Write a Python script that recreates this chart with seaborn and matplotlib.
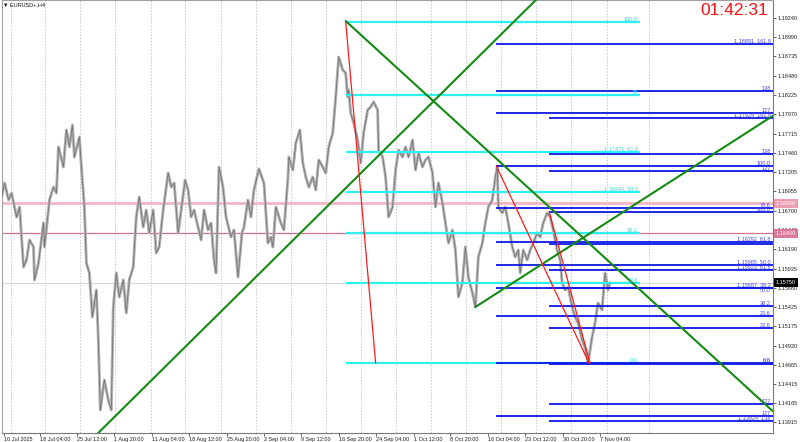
import matplotlib
matplotlib.use("Agg")
import matplotlib.pyplot as plt
import matplotlib.transforms as mtransforms
import seaborn as sns

# ---- price path (bar index, price) ----
BAR_X = [0, 3, 7, 10, 15, 18, 22, 25, 28, 32, 33, 37, 42, 43, 48, 52, 55, 57, 62, 65,
         68, 71, 73, 78, 80, 83, 85, 88, 91, 95, 97, 99, 103, 107, 110, 112, 115, 118, 122, 125,
         128, 132, 135, 138, 142, 145, 148, 152, 155, 158, 162, 167, 170, 173, 177, 180, 184, 187, 190, 193,
         197, 200, 203, 207, 210, 213, 215, 218, 222, 225, 230, 233, 237, 241, 243, 247, 250, 253, 258, 263,
         267, 270, 272, 275, 280, 283, 287, 288, 292, 295, 299, 302, 305, 308, 312, 315, 318, 322, 325, 328,
         332, 335, 338, 342, 345, 347, 348, 350, 353, 357, 360, 363, 367, 370, 373, 377, 378, 382, 385, 388,
         392, 395, 398, 402, 405, 408, 412, 415, 418, 422, 425, 428, 432, 435, 438, 442, 445, 448, 452, 455,
         458, 462, 465, 468, 472, 475, 478, 482, 485, 488, 492, 495, 497, 498, 502, 505, 508, 512, 515, 518,
         520, 523, 527, 530, 533, 537, 540, 543, 547, 550, 553, 557, 560, 562, 565, 568, 572, 575, 578, 582,
         585, 588, 592, 595, 598, 602, 605, 608, 610]
CLOSE = [1.16881, 1.17065, 1.16841, 1.16933, 1.16617, 1.16749, 1.15958, 1.16050, 1.16314, 1.16222,
         1.15787, 1.16011, 1.16538, 1.16222, 1.16841, 1.17012, 1.16933, 1.17540, 1.17276, 1.17764,
         1.17540, 1.17830, 1.17408, 1.17671, 1.17276, 1.16749, 1.16011, 1.15879, 1.15299, 1.15655,
         1.14996, 1.14073, 1.14469, 1.14205, 1.14073, 1.15431, 1.15879, 1.15563, 1.15787, 1.15352,
         1.15787, 1.15958, 1.16617, 1.16881, 1.16485, 1.16709, 1.16406, 1.16709, 1.16143, 1.16222,
         1.16709, 1.17197, 1.17012, 1.17065, 1.16406, 1.16709, 1.17105, 1.16973, 1.16617, 1.16709,
         1.16485, 1.16314, 1.16709, 1.16446, 1.16538, 1.16050, 1.15879, 1.17276, 1.17012, 1.16617,
         1.16353, 1.16446, 1.15826, 1.16406, 1.16485, 1.16841, 1.16617, 1.16973, 1.17250, 1.17065,
         1.16274, 1.16353, 1.16222, 1.16749, 1.16538, 1.16446, 1.17105, 1.17408, 1.17236, 1.17592,
         1.17764, 1.17329, 1.17144, 1.17012, 1.17144, 1.16973, 1.17368, 1.17276, 1.17197, 1.17540,
         1.17724, 1.18199, 1.18726, 1.18554, 1.18515, 1.18199, 1.18291, 1.17988, 1.17856, 1.17632,
         1.17329, 1.17724, 1.18027, 1.18067, 1.18133, 1.18027, 1.17500, 1.17408, 1.17144, 1.16617,
         1.16749, 1.17236, 1.17500, 1.17408, 1.17540, 1.17408, 1.17632, 1.17236, 1.17461, 1.17276,
         1.17368, 1.17408, 1.17197, 1.16749, 1.17065, 1.16802, 1.16538, 1.16274, 1.16446, 1.16182,
         1.15563, 1.15747, 1.16222, 1.15826, 1.15615, 1.15431, 1.16090, 1.16274, 1.16538, 1.16749,
         1.16841, 1.17144, 1.17276, 1.16749, 1.16670, 1.16749, 1.16538, 1.16222, 1.16090, 1.16182,
         1.15879, 1.16182, 1.16050, 1.16182, 1.16274, 1.16406, 1.16353, 1.16538, 1.16670, 1.16617,
         1.16446, 1.16182, 1.16050, 1.15747, 1.15655, 1.15694, 1.15431, 1.15299, 1.15220, 1.14996,
         1.14890, 1.14690, 1.15035, 1.15220, 1.15483, 1.15391, 1.15879, 1.15655, 1.15750]

# ---- axes ----
Y_TICKS = [1.19240, 1.18990, 1.18735, 1.18480, 1.18225, 1.17970, 1.17715, 1.17460, 1.17205,
           1.16955, 1.16700, 1.16445, 1.16190, 1.15935, 1.15680, 1.15425, 1.15175, 1.14920,
           1.14665, 1.14415, 1.14165, 1.13915]
DATE_LABELS = ["10 Jul 2025", "18 Jul 04:00", "25 Jul 12:00", "1 Aug 20:00", "11 Aug 04:00",
               "18 Aug 12:00", "25 Aug 20:00", "2 Sep 04:00", "9 Sep 12:00", "16 Sep 20:00",
               "24 Sep 04:00", "1 Oct 12:00", "8 Oct 20:00", "16 Oct 04:00", "23 Oct 12:00",
               "30 Oct 20:00", "7 Nov 04:00"]
DATE_POS = [2, 39, 76, 113, 151, 188, 226, 263, 300, 338, 375, 413, 450, 488, 525, 563, 600]
GRID_X = [9, 44, 79, 114, 150, 184, 220, 255, 290, 325, 360, 395, 431, 466, 501, 536, 571, 607, 649]

# ---- horizontal lines ----
PINK_LEVEL = 1.16800
PINK_DARK_LEVEL = 1.16400
BID = 1.15750

# cyan fibo (from 16 Sep high)
FIB1_X = (345, 640)
FIB1_PRICES = [1.19190, 1.18227, 1.17471, 1.16940, 1.16409, 1.15752, 1.14690]
FIB1_TEXT = ["100.0", "78", "1.17471  61.8", "1.16940  50.0", "38.2", "23.6", "0.0"]

# blue fibo 2 (from 16 Oct high)
FIB2_X = (496, 773)
FIB2_PRICES = [1.18891, 1.18274, 1.17989, 1.17289, 1.16735, 1.16292, 1.15985, 1.15687,
               1.15309, 1.14697, 1.13997]
FIB2_TEXT = ["1.18891  161.8", "138", "127", "100.0", "78.6", "1.16292  61.8", "1.15985  50.0",
             "1.15687  38.2", "23.6", "0.0", "127"]

# blue fibo 3 (from 23 Oct high)
FIB3_X = (549, 773)
FIB3_PRICES = [1.17924, 1.17447, 1.17227, 1.16687, 1.16259, 1.15923, 1.15687, 1.15450,
               1.15158, 1.14686, 1.14146, 1.13922]
FIB3_TEXT = ["1.17924  161.8", "138", "127", "100.0", "", "1.15923  61.8", "50.0", "38.2",
             "23.6", "0.0", "127", "1.13924  138"]

# trend lines: (x0, p0, x1, p1)
GREEN_UP = (110, 1.13941, 260, 1.15892)      # infinite line
GREEN_DOWN = (345, 1.19200, 773, 1.14060)
GREEN_UP2 = (475, 1.15431, 773, 1.17948)
RED_LINES = [(345, 1.19190, 375, 1.14690),
             (496, 1.17289, 589, 1.14690),
             (549, 1.16687, 590, 1.14690)]

sns.set_theme(style="white")
plt.rcParams["font.family"] = ["Liberation Sans", "DejaVu Sans"]

fig = plt.figure(figsize=(8, 4.42), dpi=100)
ax = fig.add_axes([0.002, 9 / 442, 771 / 800, 433 / 442])
ax.set_xlim(0, 773)
ax.set_ylim(1.13770, 1.19477)

for gx in GRID_X:
    ax.axvline(gx, color="#bcbcbc", lw=0.55, ls=(0, (2, 2)), zorder=0)

ax.axhline(BID, color="#d8d8d8", lw=0.8, zorder=1)
ax.axhline(PINK_LEVEL, color="#f2b6c6", lw=2.0, zorder=1)
ax.axhline(PINK_DARK_LEVEL, color="#d46f8e", lw=0.9, zorder=1)

# price drawn as a light band with a darker core, like the grey candles
sns.lineplot(x=BAR_X, y=CLOSE, ax=ax, color="#b4b4b4", linewidth=2.1,
             estimator=None, sort=False, zorder=2)
sns.lineplot(x=BAR_X, y=CLOSE, ax=ax, color="#767676", linewidth=0.6,
             estimator=None, sort=False, zorder=3)

ax.hlines(FIB1_PRICES, FIB1_X[0], FIB1_X[1], color="#2ef2f2", lw=1.6, zorder=4)
ax.hlines(FIB2_PRICES, FIB2_X[0], FIB2_X[1], color="#0d17e8", lw=1.3, zorder=4)
ax.hlines(FIB3_PRICES, FIB3_X[0], FIB3_X[1], color="#0d17e8", lw=1.3, zorder=4)

for p, t in zip(FIB1_PRICES, FIB1_TEXT):
    ax.text(FIB1_X[1] - 2, p, t, ha="right", va="bottom", fontsize=4, color="#35d8d8", zorder=6)
for p, t in zip(FIB2_PRICES, FIB2_TEXT):
    ax.text(771, p, t, ha="right", va="bottom", fontsize=4, color="#4848e6", zorder=6)
for p, t in zip(FIB3_PRICES, FIB3_TEXT):
    # fib3 50.0 sits on top of fib2 38.2, put it just under its line
    va = "top" if t == "50.0" else "bottom"
    ax.text(771, p, t, ha="right", va=va, fontsize=4, color="#4848e6", zorder=6)

ax.axline(GREEN_UP[:2], GREEN_UP[2:], color="#138a13", lw=1.5, zorder=5)
for x0, p0, x1, p1 in [GREEN_DOWN, GREEN_UP2]:
    ax.plot([x0, x1], [p0, p1], color="#138a13", lw=1.5, zorder=5)
for x0, p0, x1, p1 in RED_LINES:
    ax.plot([x0, x1], [p0, p1], color="#ff1a1a", lw=0.9, zorder=5)

# axes styling
ax.yaxis.tick_right()
ax.set_yticks(Y_TICKS)
ax.set_yticklabels([f"{v:.5f}" for v in Y_TICKS])
ax.set_xticks(DATE_POS)
ax.set_xticklabels(DATE_LABELS, ha="left")
ax.tick_params(axis="y", direction="out", length=2, width=0.5, pad=1.5, labelsize=4,
               colors="#222222", right=True)
ax.tick_params(axis="x", direction="out", length=2, width=0.5, pad=1, labelsize=4,
               colors="#222222", bottom=True)
ax.set_xlabel("")
ax.set_ylabel("")
for side in ["left", "top"]:
    ax.spines[side].set_color("#a0a0a0")
    ax.spines[side].set_linewidth(0.8)
for side in ["right", "bottom"]:
    ax.spines[side].set_color("#7a7a7a")
    ax.spines[side].set_linewidth(0.8)

trans = mtransforms.blended_transform_factory(ax.transAxes, ax.transData)
for p, fc in [(PINK_LEVEL, "#ec9db2"), (PINK_DARK_LEVEL, "#dc7898"), (BID, "#000000")]:
    ax.text(1.004, p, f"{p:.5f}", transform=trans, ha="left", va="center", fontsize=4,
            color="white", zorder=10, clip_on=False,
            bbox=dict(boxstyle="square,pad=0.35", fc=fc, ec="none"))

fig.text(768 / 800, 1 - 3 / 442, "01:42:31", ha="right", va="top", fontsize=12.5,
         color="#ff1010")
fig.text(3 / 800, 1 - 2 / 442, "▼ EURUSD+,H4", ha="left", va="top", fontsize=4,
         color="#111111")

fig.savefig("out.png", dpi=100)
